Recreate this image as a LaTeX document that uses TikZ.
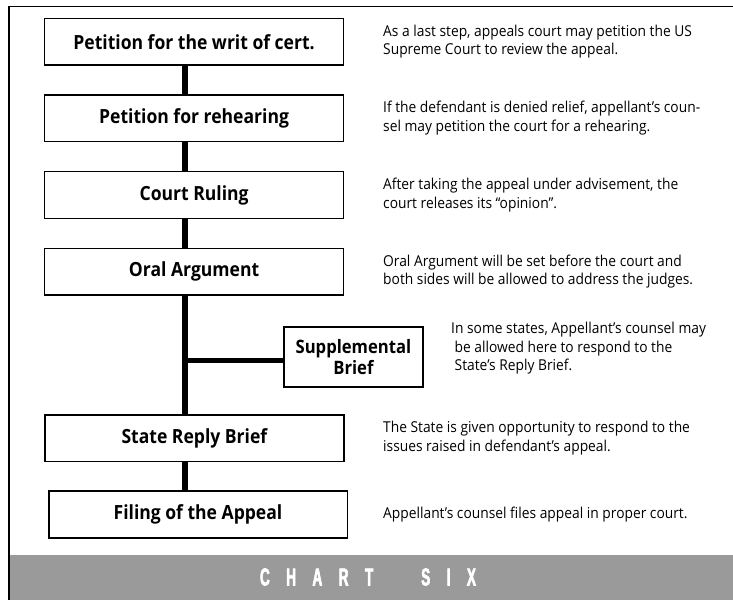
\documentclass[tikz,border=0pt]{standalone}
\usepackage{fontspec}
\setmainfont{Open Sans}[FakeStretch=0.9]
\newfontfamily\notefont{Open Sans}[FakeStretch=0.92]
\newfontfamily\chartfont{Liberation Sans}[FakeStretch=0.55,FakeBold=2.5]
\definecolor{barGray}{HTML}{9A9A9A}
\begin{document}
\begin{tikzpicture}[x=1pt,y=-1pt,
  stage/.style={draw=black,line width=1.6pt,rectangle,minimum width=299pt,minimum height=46.7pt,inner sep=0pt,
    font=\fontsize{19.5}{22}\selectfont\bfseries},
  note/.style={anchor=west,align=left,inner sep=0pt,font=\notefont\fontsize{15}{18.5}\selectfont},
  link/.style={line width=5.5pt,draw=black}]
\useasboundingbox (0,0) rectangle (733,600);
% outer frame and footer band
\fill[barGray] (9.5,555) rectangle (733,600);
\draw[line width=1.6pt] (733,6.3) -- (8.7,6.3) -- (8.7,600);
\node[text=white,font=\chartfont\fontsize{24.5}{24.5}\selectfont\bfseries] (title) at (368,577)
  {C\hspace{16.5pt}H\hspace{16.5pt}A\hspace{16.5pt}R\hspace{16.5pt}T\hspace{48pt}S\hspace{16.5pt}I\hspace{16.5pt}X};
% stages of the appeal
\node[stage] (cert) at (194.1,41.7) {Petition for the writ of cert.};
\node[stage] (rehear) at (194.1,118.3) {Petition for rehearing};
\node[stage] (ruling) at (194.1,195) {Court Ruling};
\node[stage] (oral) at (194.1,271.7) {Oral Argument};
\node[stage,minimum width=139.3pt,minimum height=60.3pt,align=center,font=\fontsize{18.5}{21.5}\selectfont\bfseries]
  (supp) at (353.4,356.9) {Supplemental\\Brief};
\node[stage] (reply) at (194.4,438.2) {State Reply Brief};
\node[stage,minimum width=298.6pt] (filing) at (198,514.4) {Filing of the Appeal};
% spine and branch
\coordinate (sx) at (185,0);
\coordinate (br) at (185,360.6);
\draw[link] (cert.south -| sx) -- (rehear.north -| sx);
\draw[link] (rehear.south -| sx) -- (ruling.north -| sx);
\draw[link] (ruling.south -| sx) -- (oral.north -| sx);
\draw[link] (oral.south -| sx) -- (reply.north -| sx);
\draw[link] (reply.south -| sx) -- (filing.north -| sx);
\draw[link] (br) -- (supp.west |- br);
% descriptions
\node[note] (n1) at (383,41.7) {As a last step, appeals court may petition the US\\Supreme Court to review the appeal.};
\node[note] (n2) at (383,118.3) {If the defendant is denied relief, appellant’s coun-\\sel may petition the court for a rehearing.};
\node[note] (n3) at (383,195) {After taking the appeal under advisement, the\\court releases its “opinion”.};
\node[note] (n4) at (383,271.7) {Oral Argument will be set before the court and\\both sides will be allowed to address the judges.};
\node[note,anchor=north west] (n5) at (451,322) {In some states, Appellant’s counsel may\\\hspace{3.5pt}be allowed here to respond to the\\\hspace{3.5pt}State’s Reply Brief.};
\node[note] (n6) at (383,438.2) {The State is given opportunity to respond to the\\issues raised in defendant’s appeal.};
\node[note] (n7) at (383,514.4) {Appellant’s counsel files appeal in proper court.};
\end{tikzpicture}
\end{document}
